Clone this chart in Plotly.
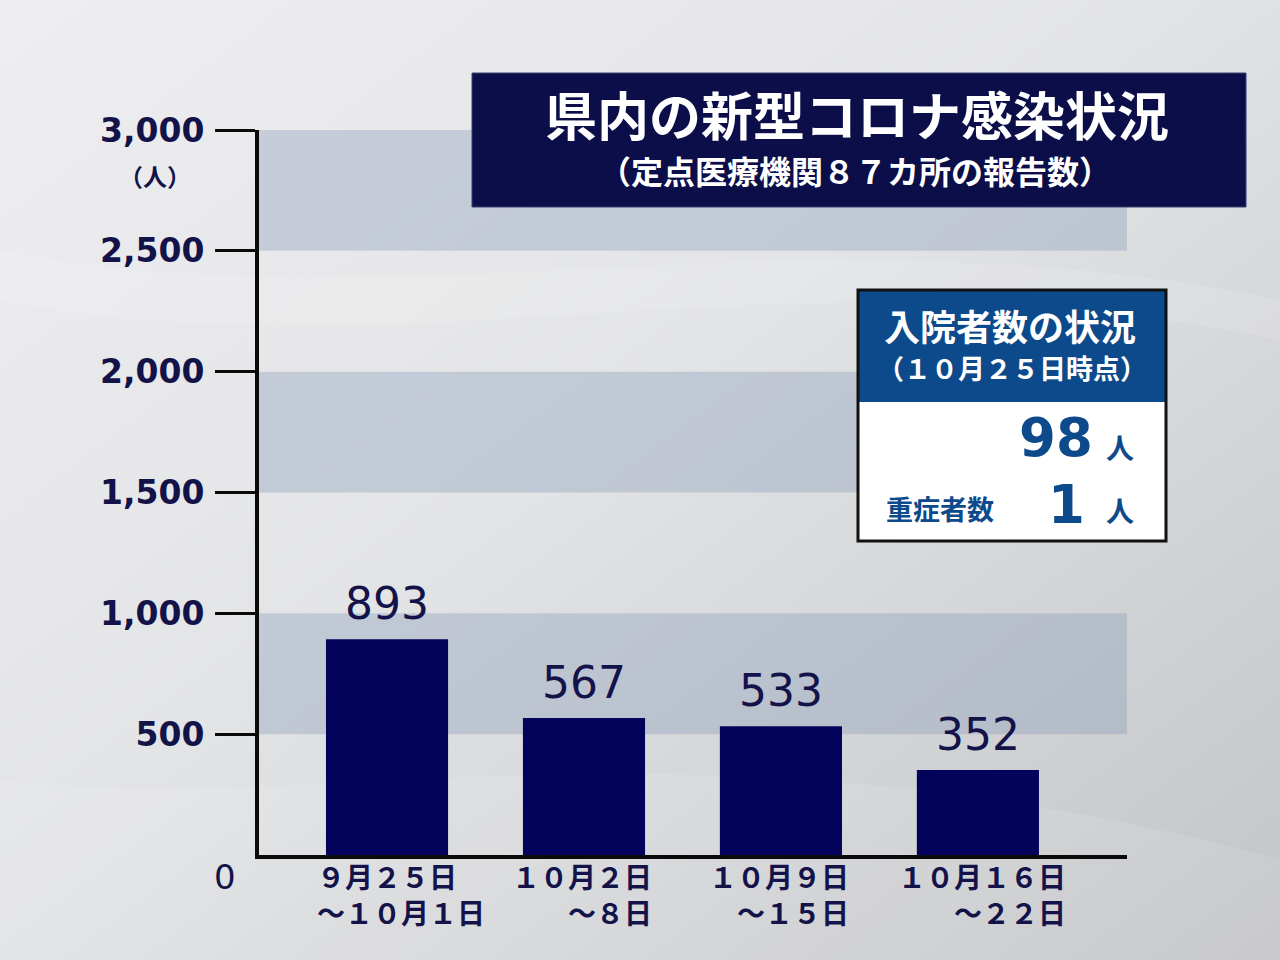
import base64
import plotly.graph_objects as go

# ---- data ----
period_start = ["９月２５日", "１０月２日", "１０月９日", "１０月１６日"]
period_end = ["～１０月１日", "～８日", "～１５日", "～２２日"]
categories = [a + b for a, b in zip(period_start, period_end)]
reports = [893, 567, 533, 352]
bar_labels = ["893", "567", "533", "352"]
ytick_vals = [500, 1000, 1500, 2000, 2500, 3000]
ytick_text = ["500", "1,000", "1,500", "2,000", "2,500", "3,000"]
band_ranges = [(500, 1000), (1500, 2000), (2500, 3000)]

title_main = "県内の新型コロナ感染状況"
title_sub = "（定点医療機関８７カ所の報告数）"
box_head1 = "入院者数の状況"
box_head2 = "（１０月２５日時点）"
hospitalized = "98"
severe_label = "重症者数"
severe = "1"
unit = "人"

# ---- layout geometry (pixels) ----
W, H = 1280, 960
L, R, T, B = 259, 1127, 130, 855
JP = "Noto Sans CJK JP"
NUM = "DejaVu Sans"
NAVY_TXT = "#13134a"
BAR = "#03035c"
BLUE = "#0d4a8b"
XFS = 28  # x label font size
BIG = 53  # info box number size


def px(X):
    return (X - L) / (R - L)


def py(Y):
    return (B - Y) / (B - T)


# soft grey gradient background (like the broadcast backdrop)
svg = (
    '<svg xmlns="http://www.w3.org/2000/svg" width="1280" height="960">'
    '<defs><linearGradient id="g" x1="0" y1="0" x2="1" y2="1">'
    '<stop offset="0" stop-color="#eeeef0"/>'
    '<stop offset="0.45" stop-color="#e3e4e6"/>'
    '<stop offset="1" stop-color="#c3c4c7"/>'
    '</linearGradient></defs>'
    '<rect width="1280" height="960" fill="url(#g)"/>'
    '<path d="M0,780 C300,820 700,700 1280,860 L1280,960 L0,960 Z" fill="#ffffff" fill-opacity="0.10"/>'
    '<path d="M0,250 C400,330 800,200 1280,300 L1280,340 C800,240 400,380 0,300 Z" fill="#ffffff" fill-opacity="0.12"/>'
    '</svg>'
)
bg_src = "data:image/svg+xml;base64," + base64.b64encode(svg.encode()).decode()

fig = go.Figure()
fig.add_trace(go.Bar(
    x=categories, y=reports, width=0.62,
    marker=dict(color=BAR, line=dict(width=0)),
    hoverinfo="skip",
))

shapes = []
for (y0, y1) in band_ranges:
    shapes.append(dict(type="rect", xref="paper", yref="y", x0=0, x1=1, y0=y0, y1=y1,
                       fillcolor="rgba(140,158,186,0.38)", line=dict(width=0), layer="below"))
# title box
shapes.append(dict(type="rect", xref="paper", yref="paper", x0=px(472), x1=px(1246),
                   y0=py(207), y1=py(73), fillcolor="#0b0e48",
                   line=dict(color="#3a4070", width=1), layer="above"))
# info box
shapes.append(dict(type="rect", xref="paper", yref="paper", x0=px(858), x1=px(1166),
                   y0=py(541), y1=py(290), fillcolor="#ffffff",
                   line=dict(width=0), layer="above"))
shapes.append(dict(type="rect", xref="paper", yref="paper", x0=px(858), x1=px(1166),
                   y0=py(402), y1=py(290), fillcolor=BLUE,
                   line=dict(width=0), layer="above"))
shapes.append(dict(type="rect", xref="paper", yref="paper", x0=px(858), x1=px(1166),
                   y0=py(541), y1=py(290), fillcolor="rgba(0,0,0,0)",
                   line=dict(color="#111111", width=3), layer="above"))

ann = []
# bar value labels
for c, v, t in zip(categories, reports, bar_labels):
    ann.append(dict(x=c, y=v, xref="x", yref="y", text=t, showarrow=False,
                    yanchor="bottom", yshift=8,
                    font=dict(family=NUM, size=44, color=NAVY_TXT)))
# x category labels
block_shift = [14, -2, -2, 4]
aligns = ["left", "right", "right", "right"]
for c, a, b, bs, al in zip(categories, period_start, period_end, block_shift, aligns):
    ann.append(dict(x=c, y=0, xref="x", yref="y", text=a + "<br>" + b, showarrow=False,
                    xanchor="center", yanchor="middle", yshift=-39, xshift=bs, align=al,
                    font=dict(family=JP, size=XFS, color=NAVY_TXT, weight="bold")))
# zero label and unit
ann.append(dict(x=0, y=0, xref="paper", yref="y", text="0", showarrow=False,
                xanchor="center", yanchor="middle", xshift=-34, yshift=-22,
                font=dict(family=NUM, size=34, color=NAVY_TXT)))
ann.append(dict(x=0, y=3000, xref="paper", yref="y", text="（人）", showarrow=False,
                xanchor="center", yanchor="middle", xshift=-104, yshift=-45,
                font=dict(family=JP, size=24, color=NAVY_TXT, weight="bold")))
# title text
ann.append(dict(x=px(857), y=py(114), xref="paper", yref="paper", text=title_main,
                showarrow=False, xanchor="center", yanchor="middle",
                font=dict(family=JP, size=52, color="white", weight="bold")))
ann.append(dict(x=px(855), y=py(170), xref="paper", yref="paper", text=title_sub,
                showarrow=False, xanchor="center", yanchor="middle",
                font=dict(family=JP, size=32, color="white", weight="bold")))
# info box text
ann.append(dict(x=px(1010), y=py(325), xref="paper", yref="paper", text=box_head1,
                showarrow=False, xanchor="center", yanchor="middle",
                font=dict(family=JP, size=36, color="white", weight="bold")))
ann.append(dict(x=px(1012), y=py(367), xref="paper", yref="paper", text=box_head2,
                showarrow=False, xanchor="center", yanchor="middle",
                font=dict(family=JP, size=27, color="white", weight="bold")))
ann.append(dict(x=px(1095), y=py(437), xref="paper", yref="paper", text=hospitalized,
                showarrow=False, xanchor="right", yanchor="middle",
                font=dict(family=NUM, size=BIG, color=BLUE, weight="bold")))
ann.append(dict(x=px(1120), y=py(447), xref="paper", yref="paper", text=unit,
                showarrow=False, xanchor="center", yanchor="middle",
                font=dict(family=JP, size=28, color=BLUE, weight="bold")))
ann.append(dict(x=px(940), y=py(508), xref="paper", yref="paper", text=severe_label,
                showarrow=False, xanchor="center", yanchor="middle",
                font=dict(family=JP, size=27, color=BLUE, weight="bold")))
ann.append(dict(x=px(1087), y=py(505), xref="paper", yref="paper", text=severe,
                showarrow=False, xanchor="right", yanchor="middle",
                font=dict(family=NUM, size=BIG, color=BLUE, weight="bold")))
ann.append(dict(x=px(1120), y=py(510), xref="paper", yref="paper", text=unit,
                showarrow=False, xanchor="center", yanchor="middle",
                font=dict(family=JP, size=28, color=BLUE, weight="bold")))

fig.update_layout(
    width=W, height=H,
    margin=dict(l=L, r=W - R, t=T, b=H - B, pad=0),
    paper_bgcolor="#e0e1e4",
    plot_bgcolor="rgba(0,0,0,0)",
    showlegend=False,
    shapes=shapes,
    annotations=ann,
    images=[dict(source=bg_src, xref="paper", yref="paper",
                 x=px(0), y=py(0), sizex=px(W) - px(0), sizey=py(0) - py(H),
                 xanchor="left", yanchor="top", sizing="stretch", layer="below")],
    xaxis=dict(type="category", range=[-0.65, 3.757], showticklabels=False,
               ticks="", showgrid=False, zeroline=False,
               showline=True, linecolor="#0a0a0a", linewidth=4, fixedrange=True),
    yaxis=dict(range=[0, 3000], tickvals=ytick_vals, ticktext=ytick_text,
               ticks="outside", ticklen=40, tickwidth=3, tickcolor="#0a0a0a",
               ticklabelstandoff=4,
               tickfont=dict(family=NUM, size=33, color=NAVY_TXT, weight="bold"),
               showgrid=False, zeroline=False,
               showline=True, linecolor="#0a0a0a", linewidth=4, fixedrange=True),
)

fig.write_html(
    "out.html",
    config={"displayModeBar": False},
    post_script="document.body.style.margin='0';document.body.style.overflow='hidden';",
)
